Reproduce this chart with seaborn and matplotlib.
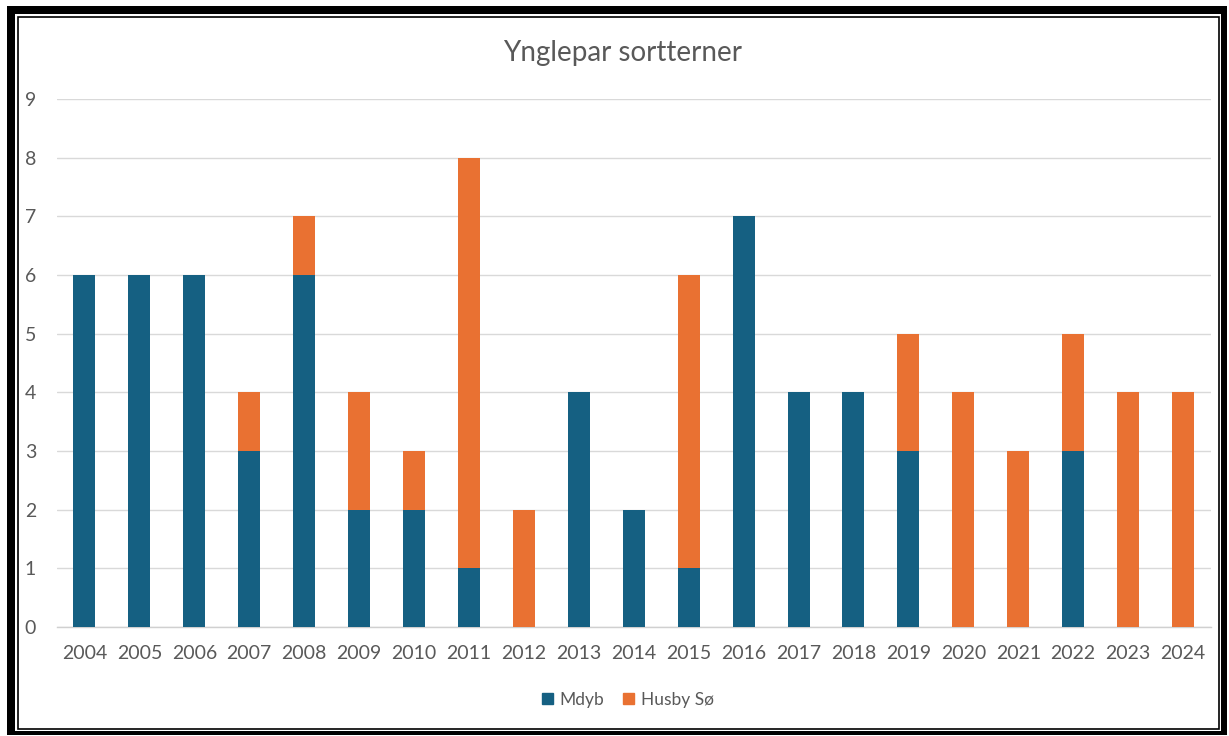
import matplotlib
matplotlib.use("Agg")
import matplotlib.pyplot as plt
import numpy as np
import pandas as pd
import seaborn as sns
from matplotlib.patches import Rectangle, Patch

years = [str(y) for y in range(2004, 2025)]
mdyb = [6, 6, 6, 3, 6, 2, 2, 1, 0, 4, 2, 1, 7, 4, 4, 3, 0, 0, 3, 0, 0]
husby = [0, 0, 0, 1, 1, 2, 1, 7, 2, 0, 0, 5, 0, 0, 0, 2, 4, 3, 2, 4, 4]

BLUE = "#156082"
ORANGE = "#E97132"
GREY = "#595959"
W, H = 1229, 736

df = pd.DataFrame({"year": years, "Mdyb": mdyb, "Husby Sø": husby})
df["total"] = df["Mdyb"] + df["Husby Sø"]

sns.set_style("white")
plt.rcParams["font.family"] = ["Lato", "DejaVu Sans"]

fig = plt.figure(figsize=(W / 100, H / 100), dpi=100)
ax = fig.add_axes([57 / W, 1 - 627 / H, (1210.5 - 57) / W, (627 - 99) / H])

# stacked bars: total in orange, Mdyb drawn over it in blue
sns.barplot(data=df, x="year", y="total", color=ORANGE, width=0.4,
            saturation=1, linewidth=0, ax=ax, zorder=3)
sns.barplot(data=df, x="year", y="Mdyb", color=BLUE, width=0.4,
            saturation=1, linewidth=0, ax=ax, zorder=4)

ax.set_ylim(0, 9)
ax.set_xlim(-0.5, len(years) - 0.5)
ax.set_yticks(range(0, 10))
ax.yaxis.grid(True, color="#D9D9D9", linewidth=1, zorder=0)
ax.set_axisbelow(True)
for side in ["top", "right", "left"]:
    ax.spines[side].set_visible(False)
ax.spines["bottom"].set_color("#D0D0D0")
ax.spines["bottom"].set_linewidth(1)
ax.tick_params(axis="both", length=0, labelsize=14, labelcolor=GREY)
ax.tick_params(axis="y", pad=15)
ax.tick_params(axis="x", pad=13)
ax.set_xlabel("")
ax.set_ylabel("")

fig.text(623 / W, 1 - 53 / H, "Ynglepar sortterner", ha="center", va="center",
         fontsize=20, color=GREY)

handles = [Patch(color=BLUE, label="Mdyb"), Patch(color=ORANGE, label="Husby Sø")]
fig.legend(handles=handles, loc="center", bbox_to_anchor=(628 / W, 1 - 700 / H),
           ncol=2, frameon=False, fontsize=12.5, handlelength=0.6, handleheight=0.6,
           columnspacing=1.1, handletextpad=0.4, labelcolor=GREY)

# frame: thick outer band plus a thin inner line
def band(x0, y0, x1, y1):
    fig.patches.append(Rectangle((x0 / W, 1 - y1 / H), (x1 - x0) / W, (y1 - y0) / H,
                                 transform=fig.transFigure, facecolor="black",
                                 edgecolor="none", zorder=10))

band(7, 6, 1227, 14)
band(7, 6, 15, 735)
band(1221, 6, 1227, 735)
band(7, 731, 1227, 735)
fig.patches.append(Rectangle((17.5 / W, 1 - 728.5 / H), (1218.5 - 17.5) / W, (728.5 - 16.5) / H,
                             transform=fig.transFigure, fill=False, edgecolor="black",
                             linewidth=1.2, zorder=10))

fig.savefig("out.png", dpi=100, facecolor="white")
